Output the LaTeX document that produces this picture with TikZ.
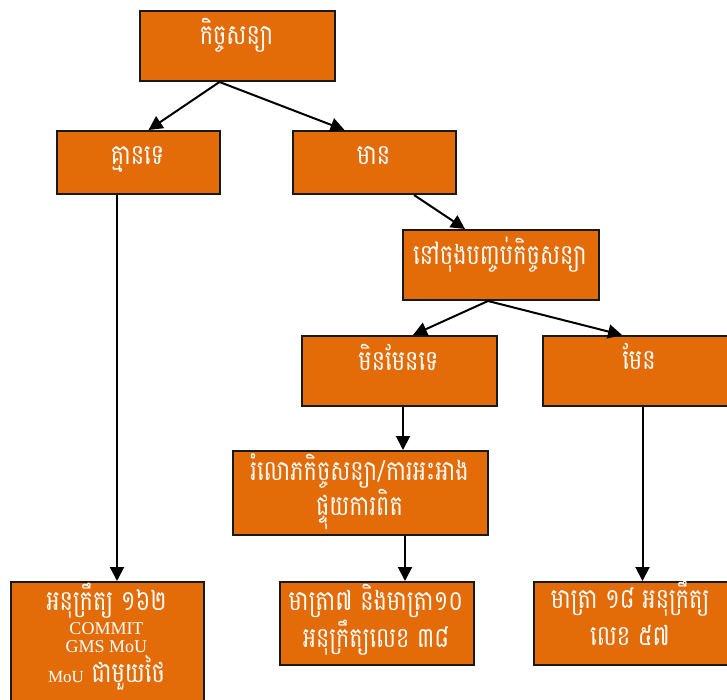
\documentclass[tikz,border=0pt]{standalone}
\usepackage{fontspec}
\usetikzlibrary{arrows.meta}
\newfontfamily\km[Script=Khmer,FakeStretch=0.8]{Battambang}
\newfontfamily\lat{Liberation Serif}
\definecolor{boxorange}{RGB}{227,108,9}
\newcommand\kmlbl{\km\fontsize{28}{0}\selectfont\lineskiplimit=-100pt\relax\lineskip=0pt\relax}
\begin{document}
\begin{tikzpicture}[x=1pt,y=-1pt,
  box/.style={draw=black!90,line width=2pt,fill=boxorange,rectangle,anchor=north west,inner sep=0pt,minimum height=70pt,minimum width=194pt},
  lbl/.style={text=white,font=\kmlbl,align=center,anchor=base,inner sep=0pt},
  arr/.style={line width=2pt,-{Triangle[length=14pt,width=14pt]}}]
\useasboundingbox (0,0) rectangle (727,700);
% boxes
\node[box,minimum width=195pt] (b1) at (139,10) {};
\node[box,minimum width=163pt,minimum height=63pt] (b2) at (56,130) {};
\node[box,minimum width=163pt,minimum height=63pt] (b3) at (292,130) {};
\node[box,minimum width=196pt] (b4) at (402,229) {};
\node[box,minimum width=195pt] (b5) at (301,335) {};
\node[box] (b6) at (542,335) {};
\node[box,minimum width=255pt,minimum height=84pt] (b7) at (232,450) {};
\node[box,minimum width=194pt,minimum height=83pt] (b8) at (279,581) {};
\node[box,minimum width=195pt,minimum height=83pt] (b9) at (533,581) {};
\node[box,minimum width=193pt,minimum height=135pt] (b10) at (10,581) {};
% labels
\node[lbl] (t1) at (236.5,45) {កិច្ចសន្យា};
\node[lbl] (t2) at (137.5,165) {គ្មានទេ};
\node[lbl] (t3) at (373.5,165) {មាន};
\node[lbl] (t4) at (500,265) {នៅចុងបញ្ចប់កិច្ចសន្យា};
\node[lbl] (t5) at (398.5,370) {មិនមែនទេ};
\node[lbl] (t6) at (639,369) {មែន};
\node[lbl] (t7) at (359.5,515) {រំលោភកិច្ចសន្យា/ការអះអាង\\[35pt]ផ្ទុយការពិត};
\node[lbl] (t8) at (376,647) {មាត្រា៧ និងមាត្រា១០\\[37pt]អនុក្រឹត្យលេខ ៣៨};
\node[lbl] (t9) at (630,645) {មាត្រា ១៨ អនុក្រឹត្យ\\[37pt]លេខ ៥៧};
\node[lbl] (t10) at (106.5,682) {អនុក្រឹត្យ ១៦២\\[24pt]{\lat\fontsize{18}{0}\selectfont COMMIT}\\[18pt]{\lat\fontsize{18}{0}\selectfont GMS MoU}\\[30pt]{\lat\fontsize{17}{0}\selectfont MoU} ជាមួយថៃ};
% connectors
\draw[arr] ([xshift=-18pt]b1.south) -- ([xshift=10pt]b2.north);
\draw[arr] ([xshift=-18pt]b1.south) -- ([xshift=-30pt]b3.north);
\draw[arr] ([xshift=39.5pt]b3.south) -- ([xshift=-36pt]b4.north);
\draw[arr] ([xshift=-13pt]b4.south) -- ([xshift=13.5pt]b5.north);
\draw[arr] ([xshift=-13pt]b4.south) -- ([xshift=-18pt]b6.north);
\draw[arr] ([xshift=3.5pt]b5.south) -- ([xshift=3.5pt]b5.south |- b7.north);
\draw[arr] ([xshift=44.5pt]b7.south) -- ([xshift=44.5pt]b7.south |- b8.north);
\draw[arr] ([xshift=2.5pt]b6.south) -- ([xshift=2.5pt]b6.south |- b9.north);
\draw[arr] ([xshift=61pt]b2.south west) -- ([xshift=61pt]b2.south west |- b10.north);
\end{tikzpicture}
\end{document}
